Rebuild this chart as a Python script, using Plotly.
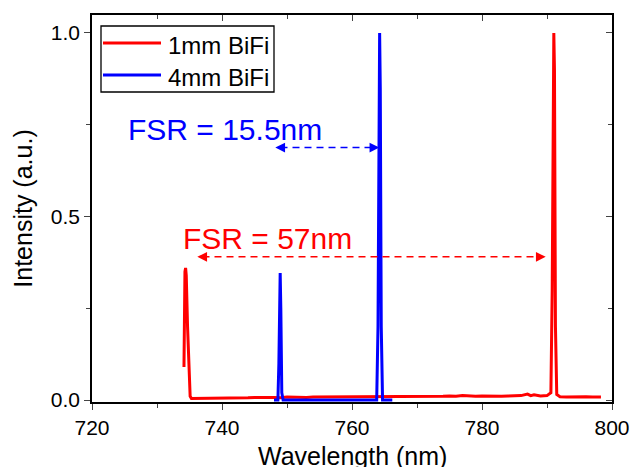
import plotly.graph_objects as go

# ---- data ----
red_x = [734.15, 734.2, 734.3, 734.4, 734.5, 734.7, 734.9, 735.1, 735.3,
         736, 737, 738, 739, 740, 741, 742, 743, 744, 745, 746, 747, 748, 749, 750,
         751, 752, 753, 754, 755, 756, 757, 758, 759, 760, 761, 762, 763, 764, 765,
         766, 767, 768, 769, 770, 771, 772, 773, 774, 775, 776, 777, 778, 779, 780,
         781, 782, 783, 784, 785, 786, 787, 787.5, 788, 789, 790, 790.6,
         790.8, 790.95, 791.05, 791.15, 791.3, 791.5, 792, 793, 794, 795, 796, 797, 798, 798.3]
red_y = [0.09, 0.24, 0.35, 0.36, 0.34, 0.2, 0.08, 0.01, 0.004,
         0.004, 0.005, 0.004, 0.005, 0.005, 0.006, 0.005, 0.006, 0.006, 0.007, 0.006, 0.007, 0.007, 0.006, 0.008,
         0.007, 0.008, 0.007, 0.008, 0.008, 0.009, 0.008, 0.008, 0.009, 0.008, 0.009, 0.009, 0.008, 0.009, 0.009,
         0.009, 0.010, 0.009, 0.010, 0.009, 0.010, 0.010, 0.009, 0.010, 0.011, 0.010, 0.012, 0.010, 0.010, 0.011,
         0.010, 0.011, 0.010, 0.011, 0.011, 0.012, 0.016, 0.012, 0.014, 0.011, 0.012, 0.02,
         0.3, 0.95, 1.0, 0.9, 0.2, 0.015, 0.009, 0.008, 0.009, 0.008, 0.009, 0.008, 0.009, 0.008]

blue_x = [748.0, 748.6, 748.75, 748.85, 748.95, 749.05, 749.2, 749.4, 755, 763.8,
          764.0, 764.15, 764.25, 764.35, 764.5, 764.7, 766.2]
blue_y = [0.0, 0.0, 0.1, 0.3, 0.346, 0.25, 0.02, 0.0, 0.0, 0.0,
          0.2, 0.8, 1.0, 0.85, 0.2, 0.0, 0.0]

series_names = ["1mm BiFi", "4mm BiFi"]
series_colors = ["#ff0000", "#0000ff"]
fsr_labels = ["FSR = 15.5nm", "FSR = 57nm"]
blue_arrow = [748.2, 764.2, 0.688]
red_arrow = [736.2, 789.8, 0.39]

x_ticks = [720, 740, 760, 780, 800]
y_ticks = [0.0, 0.5, 1.0]
y_ticktext = ["0.0", "0.5", "1.0"]
x_title = "Wavelength (nm)"
y_title = "Intensity (a.u.)"

FONT = "Liberation Sans, Arial, sans-serif"

fig = go.Figure()
fig.add_trace(go.Scatter(x=red_x, y=red_y, mode="lines", name=series_names[0],
                         line=dict(color=series_colors[0], width=3), showlegend=False))
fig.add_trace(go.Scatter(x=blue_x, y=blue_y, mode="lines", name=series_names[1],
                         line=dict(color=series_colors[1], width=3), showlegend=False))
# invisible trace for mirrored inside-tick axes
fig.add_trace(go.Scatter(x=[720], y=[0], xaxis="x2", yaxis="y2", mode="markers",
                         marker=dict(opacity=0), showlegend=False, hoverinfo="skip"))

xr = [720, 800]
yr = [-0.0054, 1.049]

fig.update_layout(
    width=630, height=467,
    margin=dict(l=92, r=18, t=15, b=65, autoexpand=False),
    paper_bgcolor="white", plot_bgcolor="white",
    font=dict(family=FONT, color="black", size=21),
    showlegend=False,
    xaxis=dict(range=xr, tickvals=x_ticks, ticks="outside", ticklen=6, tickwidth=1.3,
               minor=dict(dtick=10, tick0=720, ticks="outside", ticklen=4, tickwidth=1.3),
               showline=True, linecolor="black", linewidth=1.5, showgrid=False, zeroline=False,
               tickfont=dict(size=21)),
    yaxis=dict(range=yr, tickvals=y_ticks, ticktext=y_ticktext, ticks="outside",
               ticklen=6, tickwidth=1.3,
               minor=dict(dtick=0.25, tick0=0, ticks="outside", ticklen=4, tickwidth=1.3),
               showline=True, linecolor="black", linewidth=1.5, showgrid=False, zeroline=False,
               tickfont=dict(size=21), title=dict(text=y_title, font=dict(size=25), standoff=11)),
    xaxis2=dict(range=xr, overlaying="x", side="top", tickvals=x_ticks, ticks="inside", ticklen=6,
                tickwidth=1.3, showticklabels=False,
                minor=dict(dtick=10, tick0=720, ticks="inside", ticklen=4, tickwidth=1.3),
                showline=True, linecolor="black", linewidth=1.5, showgrid=False, zeroline=False),
    yaxis2=dict(range=yr, overlaying="y", side="right", tickvals=y_ticks, ticks="inside", ticklen=6,
                tickwidth=1.3, showticklabels=False,
                minor=dict(dtick=0.25, tick0=0, ticks="inside", ticklen=4, tickwidth=1.3),
                showline=True, linecolor="black", linewidth=1.5, showgrid=False, zeroline=False),
)

def px_x(px):
    return (px - 92) / 520.0

def px_y(py):
    return (402 - py) / 387.0

# x-axis title (placed as text so it can sit partly below the page edge like the original)
fig.add_annotation(x=0.5, y=px_y(440), xref="paper", yref="paper", text=x_title, showarrow=False,
                   xanchor="center", yanchor="top", font=dict(size=25, color="black", family=FONT))

def dashed_arrow(x0, x1, y, color):
    fig.add_shape(type="line", x0=x0 + 0.8, x1=x1 - 0.8, y0=y, y1=y, xref="x", yref="y",
                  line=dict(color=color, width=1.5, dash="7px,5px"))
    for tip, tail in ((x0, x0 + 1.4), (x1, x1 - 1.4)):
        fig.add_annotation(x=tip, y=y, ax=tail, ay=y, xref="x", yref="y", axref="x", ayref="y",
                           text="", showarrow=True, arrowhead=2, arrowsize=1.3, arrowwidth=1.5,
                           arrowcolor=color)

dashed_arrow(blue_arrow[0], blue_arrow[1], blue_arrow[2], series_colors[1])
dashed_arrow(red_arrow[0], red_arrow[1], red_arrow[2], series_colors[0])

fig.add_annotation(x=725.2, y=0.736, xref="x", yref="y", text=fsr_labels[0], showarrow=False,
                   xanchor="left", yanchor="middle", font=dict(size=30, color=series_colors[1], family=FONT))
fig.add_annotation(x=733.7, y=0.439, xref="x", yref="y", text=fsr_labels[1], showarrow=False,
                   xanchor="left", yanchor="middle", font=dict(size=30, color=series_colors[0], family=FONT))

# ---- legend box (drawn manually to match sample length) ----
fig.add_shape(type="rect", xref="paper", yref="paper", x0=px_x(101), x1=px_x(274),
              y0=px_y(92), y1=px_y(26), line=dict(color="black", width=1.3), fillcolor="white")
for i, (name, col) in enumerate(zip(series_names, series_colors)):
    yy = [43, 75][i]
    fig.add_shape(type="line", xref="paper", yref="paper", x0=px_x(103), x1=px_x(161),
                  y0=px_y(yy), y1=px_y(yy), line=dict(color=col, width=3))
    fig.add_annotation(x=px_x(166), y=px_y(yy + 2), xref="paper", yref="paper", text=name,
                       showarrow=False, xanchor="left", yanchor="middle",
                       font=dict(size=24, color="black", family=FONT))

fig.write_html("out.html", post_script="document.body.style.margin='0';",
               config={"displayModeBar": False})
